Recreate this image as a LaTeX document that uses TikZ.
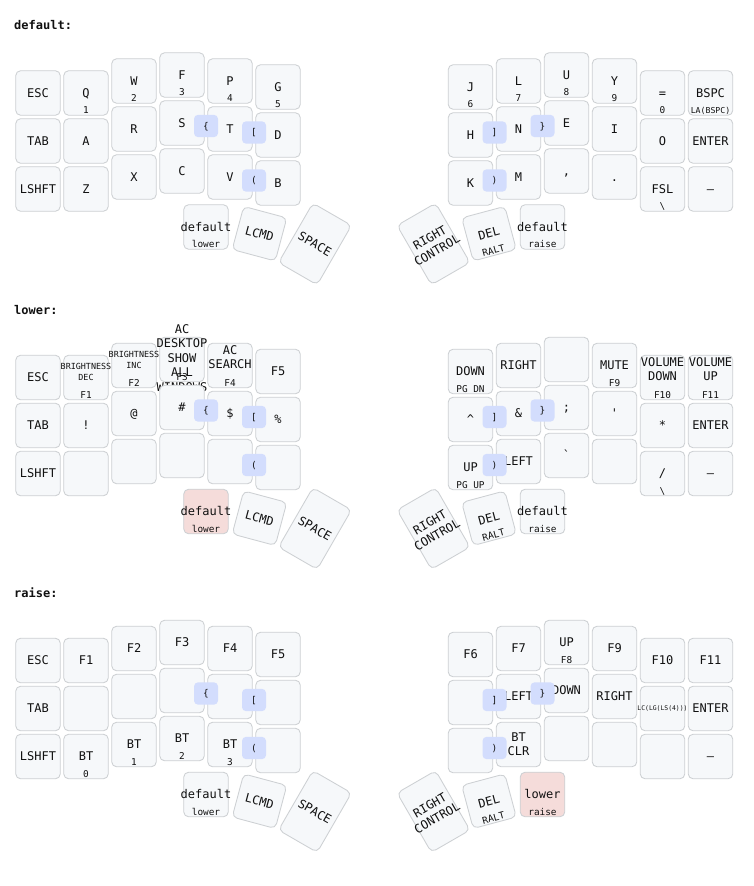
\documentclass[tikz,border=0pt]{standalone}
\usepackage{fontspec}
\setmonofont{DejaVu Sans Mono}
\usepackage{tikz}
\usepackage{xcolor}

\definecolor{keyfill}{HTML}{F6F8FA}
\definecolor{keyline}{HTML}{CDD0D3}
\definecolor{combofill}{HTML}{D3DDFD}
\definecolor{heldfill}{HTML}{F5DCDA}
\definecolor{ink}{HTML}{111111}

% key: [opts]{name}{x,y}{tap}{hold}
\newcommand{\kc}[5][]{%
  \node[key,#1] (#2) at (#3) {};
  \if\relax\detokenize{#4}\relax\else
    \node[tap,#1,fill=none,draw=none] (#2t) at (#2.center) {#4};\fi
  \if\relax\detokenize{#5}\relax\else
    \node[hold,#1,fill=none,draw=none] (#2h) at (#2.south) {#5};\fi}

\begin{document}
\begin{tikzpicture}[
  x=1pt, y=-1pt,
  every node/.style={text=ink},
  key/.style={draw=keyline, fill=keyfill, line width=0.85pt, rounded corners=5pt, minimum width=44.6pt, minimum height=44.6pt, inner sep=0pt},
  tall/.style={minimum height=68.6pt},
  held/.style={fill=heldfill},
  tap/.style={font=\ttfamily\fontsize{12}{14.4}\selectfont, inner sep=0pt, text height=8.75pt, text depth=0pt},
  taps/.style={align=center, text height={}, text depth={}},
  tiny/.style={font=\ttfamily\fontsize{6.4}{7.7}\selectfont, text height=4.7pt},
  hold/.style={font=\ttfamily\fontsize{9.4}{11.3}\selectfont, inner sep=0pt, anchor=south, text height=6.9pt, text depth=1.7pt},
  combo/.style={fill=combofill, rounded corners=4pt, minimum width=24pt, minimum height=22.3pt, inner sep=0pt, font=\ttfamily\fontsize{9.4}{11.3}\selectfont, text height=6.9pt, text depth=0pt},
  title/.style={font=\ttfamily\bfseries\fontsize{12}{14.4}\selectfont, anchor=base west, inner sep=0pt},
]
\path[use as bounding box, fill=white] (0,0) rectangle (753,886);

% ── default ──
\node[title] (d-title) at (14,29.7) {default:};

\kc{d-L00}{38,93}{ESC}{}
\kc{d-L01}{86,93}{Q}{1}
\kc{d-L02}{134,81}{W}{2}
\kc{d-L03}{182,75}{F}{3}
\kc{d-L04}{230,81}{P}{4}
\kc{d-L05}{278,87}{G}{5}
\kc{d-R00}{470.5,87}{J}{6}
\kc{d-R01}{518.5,81}{L}{7}
\kc{d-R02}{566.5,75}{U}{8}
\kc{d-R03}{614.5,81}{Y}{9}
\kc{d-R04}{662.5,93}{=}{0}
\kc{d-R05}{710.5,93}{BSPC}{\fontsize{8.2}{9.8}\selectfont LA(BSPC)}

\kc{d-L10}{38,141}{TAB}{}
\kc{d-L11}{86,141}{A}{}
\kc{d-L12}{134,129}{R}{}
\kc{d-L13}{182,123}{S}{}
\kc{d-L14}{230,129}{T}{}
\kc{d-L15}{278,135}{D}{}
\kc{d-R10}{470.5,135}{H}{}
\kc{d-R11}{518.5,129}{N}{}
\kc{d-R12}{566.5,123}{E}{}
\kc{d-R13}{614.5,129}{I}{}
\kc{d-R14}{662.5,141}{O}{}
\kc{d-R15}{710.5,141}{ENTER}{}

\kc{d-L20}{38,189}{LSHFT}{}
\kc{d-L21}{86,189}{Z}{}
\kc{d-L22}{134,177}{X}{}
\kc{d-L23}{182,171}{C}{}
\kc{d-L24}{230,177}{V}{}
\kc{d-L25}{278,183}{B}{}
\kc{d-R20}{470.5,183}{K}{}
\kc{d-R21}{518.5,177}{M}{}
\kc{d-R22}{566.5,171}{,}{}
\kc{d-R23}{614.5,177}{.}{}
\kc{d-R24}{662.5,189}{FSL}{\textbackslash}
\kc{d-R25}{710.5,189}{\textendash}{}

\kc{d-Lt0}{206,227}{default}{lower}
\kc[rotate=-15]{d-Lt1}{259.5,233.7}{LCMD}{}
\kc[rotate=-30,tall]{d-Lt2}{315,244}{SPACE}{}
\kc[rotate=30,tall,taps]{d-Rt0}{433.5,244}{RIGHT\\CONTROL}{}
\kc[rotate=15]{d-Rt1}{489,233.7}{DEL}{RALT}
\kc{d-Rt2}{542.5,227}{default}{raise}

\node[combo] (d-c1) at (206,126) {\{};
\node[combo] (d-c2) at (254,132.5) {[};
\node[combo] (d-c3) at (254,180.5) {(};
\node[combo] (d-c4) at (494.5,132.5) {]};
\node[combo] (d-c5) at (542.5,126) {\}};
\node[combo] (d-c6) at (494.5,180.5) {)};

% ── lower ──
\begin{scope}[shift={(0,284.5)}]
\node[title] (l-title) at (14,29.7) {lower:};

\kc{l-L00}{38,93}{ESC}{}
\node[key] (l-L01) at (86,93) {};
\node[tap,taps,font=\ttfamily\fontsize{8.4}{10.2}\selectfont] (l-L01t) at ([yshift=5.5pt]l-L01.center) {BRIGHTNESS\\DEC};
\node[hold] (l-L01h) at (l-L01.south) {F1};
\node[key] (l-L02) at (134,81) {};
\node[tap,taps,font=\ttfamily\fontsize{8.4}{10.2}\selectfont] (l-L02t) at ([yshift=5.5pt]l-L02.center) {BRIGHTNESS\\INC};
\node[hold] (l-L02h) at (l-L02.south) {F2};
\node[key] (l-L03) at (182,75) {};
\node[tap,taps] (l-L03t) at ([yshift=1.5pt]l-L03.center) {AC\\DESKTOP\\SHOW\\ALL\\WINDOWS};
\node[hold] (l-L03h) at (l-L03.south) {F3};
\node[key] (l-L04) at (230,81) {};
\node[tap,taps] (l-L04t) at ([yshift=8.3pt]l-L04.center) {AC\\SEARCH};
\node[hold] (l-L04h) at (l-L04.south) {F4};
\kc{l-L05}{278,87}{F5}{}
\kc{l-R00}{470.5,87}{DOWN}{PG DN}
\kc{l-R01}{518.5,81}{RIGHT}{}
\kc{l-R02}{566.5,75}{}{}
\kc{l-R03}{614.5,81}{MUTE}{F9}
\node[key] (l-R04) at (662.5,93) {};
\node[tap,taps] (l-R04t) at ([yshift=8.3pt]l-R04.center) {VOLUME\\DOWN};
\node[hold] (l-R04h) at (l-R04.south) {F10};
\node[key] (l-R05) at (710.5,93) {};
\node[tap,taps] (l-R05t) at ([yshift=8.3pt]l-R05.center) {VOLUME\\UP};
\node[hold] (l-R05h) at (l-R05.south) {F11};

\kc{l-L10}{38,141}{TAB}{}
\kc{l-L11}{86,141}{!}{}
\kc{l-L12}{134,129}{@}{}
\kc{l-L13}{182,123}{\#}{}
\kc{l-L14}{230,129}{\$}{}
\kc{l-L15}{278,135}{\%}{}
\kc{l-R10}{470.5,135}{\textasciicircum}{}
\kc{l-R11}{518.5,129}{\&}{}
\kc{l-R12}{566.5,123}{;}{}
\kc{l-R13}{614.5,129}{'}{}
\kc{l-R14}{662.5,141}{*}{}
\kc{l-R15}{710.5,141}{ENTER}{}

\kc{l-L20}{38,189}{LSHFT}{}
\kc{l-L21}{86,189}{}{}
\kc{l-L22}{134,177}{}{}
\kc{l-L23}{182,171}{}{}
\kc{l-L24}{230,177}{}{}
\kc{l-L25}{278,183}{}{}
\kc{l-R20}{470.5,183}{UP}{PG UP}
\kc{l-R21}{518.5,177}{LEFT}{}
\kc{l-R22}{566.5,171}{`}{}
\kc{l-R23}{614.5,177}{}{}
\kc{l-R24}{662.5,189}{/}{\textbackslash}
\kc{l-R25}{710.5,189}{\textendash}{}

\kc[held]{l-Lt0}{206,227}{default}{lower}
\kc[rotate=-15]{l-Lt1}{259.5,233.7}{LCMD}{}
\kc[rotate=-30,tall]{l-Lt2}{315,244}{SPACE}{}
\kc[rotate=30,tall,taps]{l-Rt0}{433.5,244}{RIGHT\\CONTROL}{}
\kc[rotate=15]{l-Rt1}{489,233.7}{DEL}{RALT}
\kc{l-Rt2}{542.5,227}{default}{raise}

\node[combo] (l-c1) at (206,126) {\{};
\node[combo] (l-c2) at (254,132.5) {[};
\node[combo] (l-c3) at (254,180.5) {(};
\node[combo] (l-c4) at (494.5,132.5) {]};
\node[combo] (l-c5) at (542.5,126) {\}};
\node[combo] (l-c6) at (494.5,180.5) {)};
\end{scope}

% ── raise ──
\begin{scope}[shift={(0,567.5)}]
\node[title] (r-title) at (14,29.7) {raise:};

\kc{r-L00}{38,93}{ESC}{}
\kc{r-L01}{86,93}{F1}{}
\kc{r-L02}{134,81}{F2}{}
\kc{r-L03}{182,75}{F3}{}
\kc{r-L04}{230,81}{F4}{}
\kc{r-L05}{278,87}{F5}{}
\kc{r-R00}{470.5,87}{F6}{}
\kc{r-R01}{518.5,81}{F7}{}
\kc{r-R02}{566.5,75}{UP}{F8}
\kc{r-R03}{614.5,81}{F9}{}
\kc{r-R04}{662.5,93}{F10}{}
\kc{r-R05}{710.5,93}{F11}{}

\kc{r-L10}{38,141}{TAB}{}
\kc{r-L11}{86,141}{}{}
\kc{r-L12}{134,129}{}{}
\kc{r-L13}{182,123}{}{}
\kc{r-L14}{230,129}{}{}
\kc{r-L15}{278,135}{}{}
\kc{r-R10}{470.5,135}{}{}
\kc{r-R11}{518.5,129}{LEFT}{}
\kc{r-R12}{566.5,123}{DOWN}{}
\kc{r-R13}{614.5,129}{RIGHT}{}
\kc[tiny]{r-R14}{662.5,141}{LC(LG(LS(4)))}{}
\kc{r-R15}{710.5,141}{ENTER}{}

\kc{r-L20}{38,189}{LSHFT}{}
\kc{r-L21}{86,189}{BT}{0}
\kc{r-L22}{134,177}{BT}{1}
\kc{r-L23}{182,171}{BT}{2}
\kc{r-L24}{230,177}{BT}{3}
\kc{r-L25}{278,183}{}{}
\kc{r-R20}{470.5,183}{}{}
\kc[taps]{r-R21}{518.5,177}{BT\\CLR}{}
\kc{r-R22}{566.5,171}{}{}
\kc{r-R23}{614.5,177}{}{}
\kc{r-R24}{662.5,189}{}{}
\kc{r-R25}{710.5,189}{\textendash}{}

\kc{r-Lt0}{206,227}{default}{lower}
\kc[rotate=-15]{r-Lt1}{259.5,233.7}{LCMD}{}
\kc[rotate=-30,tall]{r-Lt2}{315,244}{SPACE}{}
\kc[rotate=30,tall,taps]{r-Rt0}{433.5,244}{RIGHT\\CONTROL}{}
\kc[rotate=15]{r-Rt1}{489,233.7}{DEL}{RALT}
\kc[held]{r-Rt2}{542.5,227}{lower}{raise}

\node[combo] (r-c1) at (206,126) {\{};
\node[combo] (r-c2) at (254,132.5) {[};
\node[combo] (r-c3) at (254,180.5) {(};
\node[combo] (r-c4) at (494.5,132.5) {]};
\node[combo] (r-c5) at (542.5,126) {\}};
\node[combo] (r-c6) at (494.5,180.5) {)};
\end{scope}

\end{tikzpicture}
\end{document}
